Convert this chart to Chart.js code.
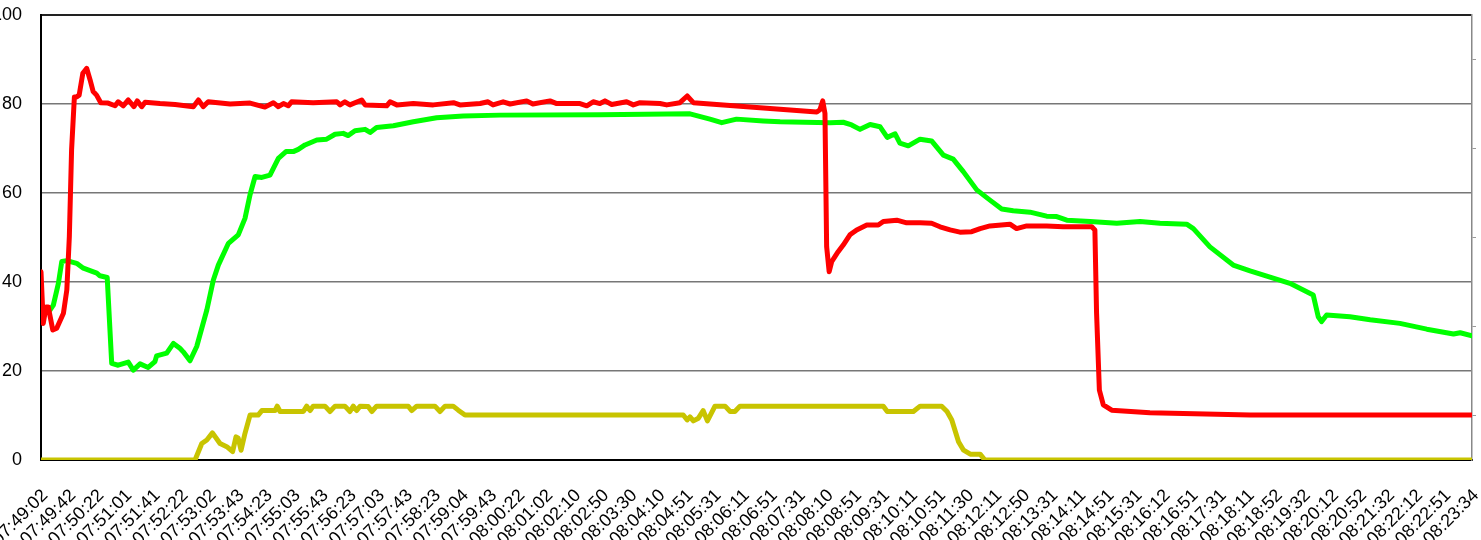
<!DOCTYPE html>
<html>
<head>
<meta charset="utf-8">
<script src="https://cdn.jsdelivr.net/npm/chart.js@4/dist/chart.umd.min.js"></script>
<style>
  html, body { margin: 0; padding: 0; background: #ffffff; }
  #wrap { width: 1481px; height: 540px; }
</style>
</head>
<body>
<div id="wrap"><canvas id="c" width="1481" height="540"></canvas></div>
<script>
const timeLabels = ["07:49:02","07:49:42","07:50:22","07:51:01","07:51:41","07:52:22","07:53:02","07:53:43","07:54:23","07:55:03","07:55:43","07:56:23","07:57:03","07:57:43","07:58:23","07:59:04","07:59:43","08:00:22","08:01:02","08:02:10","08:02:50","08:03:30","08:04:10","08:04:51","08:05:31","08:06:11","08:06:51","08:07:31","08:08:10","08:08:51","08:09:31","08:10:11","08:10:51","08:11:30","08:12:11","08:12:50","08:13:31","08:14:11","08:14:51","08:15:31","08:16:12","08:16:51","08:17:31","08:18:11","08:18:52","08:19:32","08:20:12","08:20:52","08:21:32","08:22:12","08:22:51","08:23:34"];

const yTickValues = [0, 20, 40, 60, 80, 100];
const rightTickValues = [10, 30, 50, 70, 90];

// red series: position along the time labels (fractional label index) and value
const redX = [0,0.08,0.18,0.26,0.42,0.56,0.80,0.92,1.01,1.09,1.19,1.27,1.36,1.49,1.63,1.75,1.86,1.98,2.13,2.39,2.64,2.75,2.93,3.11,3.31,3.43,3.59,3.71,4.24,4.78,5.43,5.61,5.78,5.96,6.74,7.45,7.98,8.28,8.46,8.64,8.81,8.93,9.70,10.54,10.66,10.83,11.01,11.43,11.55,12.32,12.44,12.68,13.27,13.98,14.70,14.93,15.65,15.93,16.11,16.47,16.72,17.31,17.53,18.14,18.38,19.21,19.45,19.68,19.92,20.10,20.34,20.87,21.11,21.35,22.06,22.30,22.77,23.03,23.25,25.15,27.65,27.76,27.86,27.94,28.00,28.09,28.18,28.41,28.59,28.83,29.07,29.43,29.84,30.02,30.50,30.85,31.33,31.74,32.04,32.40,32.75,33.17,33.47,33.82,34.53,34.77,35.13,35.84,36.43,37.03,37.45,37.56,37.62,37.72,37.86,38.16,39.52,43.09,51.00];
const redY = [42.3,30.7,34.4,34.4,29.2,29.6,33.0,38.2,50.2,69.7,81.6,81.6,82.0,86.9,88.0,85.4,82.8,82.0,80.3,80.2,79.6,80.5,79.6,80.9,79.4,80.7,79.4,80.4,80.1,79.9,79.4,80.9,79.4,80.5,80.0,80.2,79.3,80.3,79.4,80.1,79.6,80.5,80.3,80.5,79.8,80.5,79.8,80.9,79.8,79.6,80.5,79.8,80.1,79.8,80.3,79.8,80.1,80.5,79.8,80.5,80.0,80.7,80.0,80.7,80.1,80.1,79.6,80.5,80.1,80.7,79.9,80.5,79.8,80.3,80.1,79.8,80.3,81.8,80.3,79.4,78.2,78.7,80.7,77.9,47.9,42.3,44.6,46.8,48.3,50.6,51.7,52.8,52.8,53.6,53.9,53.3,53.3,53.2,52.4,51.7,51.2,51.3,52.0,52.6,53.0,52.0,52.6,52.6,52.4,52.4,52.4,51.7,33.0,15.7,12.4,11.2,10.6,10.1,10.1];

const greenX = [0,0.14,0.32,0.44,0.62,0.74,0.92,1.27,1.51,1.99,2.10,2.36,2.52,2.75,3.11,3.29,3.53,3.82,4.06,4.12,4.48,4.72,4.95,5.07,5.31,5.55,5.91,6.14,6.32,6.68,7.03,7.27,7.45,7.63,7.87,8.16,8.46,8.73,8.99,9.17,9.41,9.83,10.18,10.48,10.77,10.95,11.19,11.55,11.73,11.96,12.56,13.27,14.10,15.05,16.36,19.92,23.13,23.84,24.26,24.79,25.74,26.34,28.12,28.59,28.89,29.19,29.55,29.90,30.16,30.44,30.61,30.91,31.33,31.74,32.16,32.51,32.87,33.35,33.82,34.24,34.65,35.25,35.84,36.20,36.56,37.39,38.34,39.17,39.88,40.83,41.07,41.66,42.49,43.09,44.51,45.34,45.52,45.64,45.82,46.65,47.37,48.43,49.39,50.34,50.58,51.00];
const greenY = [32.2,33.3,33.7,34.8,39.7,44.6,44.8,44.2,43.1,42.0,41.4,41.0,21.7,21.3,22.0,20.2,21.6,20.8,22.1,23.4,24.0,26.2,25.1,24.3,22.3,25.5,33.7,40.4,43.8,48.7,50.6,54.3,59.6,63.7,63.5,64.0,67.8,69.3,69.3,69.8,70.8,71.9,72.1,73.2,73.4,72.9,74.0,74.3,73.6,74.7,75.1,76.0,76.9,77.3,77.5,77.6,77.8,76.6,75.8,76.6,76.2,76.0,75.8,75.9,75.3,74.3,75.4,74.9,72.5,73.3,71.2,70.6,72.1,71.7,68.5,67.6,64.8,60.7,58.4,56.4,56.0,55.7,54.8,54.7,53.9,53.6,53.2,53.6,53.2,53.0,52.0,47.9,43.8,42.5,39.7,37.1,32.2,31.1,32.6,32.2,31.5,30.7,29.4,28.3,28.6,27.9];

const yellowX = [0,5.49,5.73,5.91,6.11,6.38,6.62,6.83,6.95,7.03,7.13,7.27,7.45,7.74,7.87,8.34,8.42,8.52,9.35,9.47,9.59,9.70,10.12,10.30,10.48,10.83,11.01,11.13,11.25,11.37,11.66,11.79,11.96,13.09,13.21,13.39,14.04,14.22,14.40,14.69,14.87,15.11,22.89,23.03,23.13,23.25,23.43,23.60,23.75,24.02,24.38,24.56,24.73,24.91,30.02,30.16,31.09,31.33,32.10,32.29,32.46,32.70,32.88,33.12,33.47,33.64,51.00];
const yellowY = [0,0,3.7,4.5,6.1,3.7,3.0,1.9,5.2,4.9,2.2,6.0,10.1,10.1,11.1,11.1,12.1,10.9,10.9,12.1,11.1,12.1,12.1,10.9,12.1,12.1,10.9,12.1,11.1,12.1,12.0,10.9,12.1,12.1,11.1,12.1,12.1,10.9,12.1,12.1,11.2,10.1,10.1,9.0,9.7,8.8,9.4,11.1,8.8,12.1,12.1,10.9,10.9,12.1,12.1,10.9,10.9,12.1,12.1,10.9,9.0,4.1,2.2,1.3,1.3,0,0];

const pairs = (xs, ys) => xs.map((x, i) => ({ x: x, y: ys[i] }));

const fontFamily = "'Liberation Sans', Arial, sans-serif";

new Chart(document.getElementById('c'), {
  type: 'line',
  data: {
    datasets: [
      { label: 'red', data: pairs(redX, redY), borderColor: '#ff0000', borderWidth: 5 },
      { label: 'green', data: pairs(greenX, greenY), borderColor: '#00ff00', borderWidth: 5 },
      { label: 'yellow', data: pairs(yellowX, yellowY), borderColor: '#c8c400', borderWidth: 5 }
    ]
  },
  options: {
    responsive: false,
    animation: false,
    parsing: false,
    elements: {
      point: { radius: 0, hoverRadius: 0 },
      line: { tension: 0, borderJoinStyle: 'round', borderCapStyle: 'round', fill: false }
    },
    layout: { padding: { top: 15, left: 0, right: 0, bottom: 0 } },
    plugins: { legend: { display: false }, tooltip: { enabled: false }, title: { display: false } },
    scales: {
      x: {
        type: 'linear',
        position: 'bottom',
        min: 0,
        max: timeLabels.length - 1,
        grid: { display: false, drawTicks: false },
        border: { display: true, color: '#000000', width: 2 },
        ticks: {
          stepSize: 1,
          autoSkip: false,
          maxTicksLimit: 100,
          maxRotation: 45,
          minRotation: 45,
          padding: 25,
          labelOffset: 4,
          color: '#000000',
          font: { family: fontFamily, size: 18 },
          callback: (v) => timeLabels[v]
        },
        afterFit: (s) => { s.height = 80; s.paddingLeft = 0; s.paddingRight = 0; }
      },
      y: {
        position: 'left',
        min: 0,
        max: 100,
        afterBuildTicks: (s) => { s.ticks = yTickValues.map(v => ({ value: v })); },
        grid: {
          color: (ctx) => (ctx.tick && ctx.tick.value === 100) ? '#222222' : '#777777',
          lineWidth: (ctx) => (ctx.tick && ctx.tick.value === 100) ? 2 : 1.5,
          drawTicks: false
        },
        border: { color: '#000000', width: 2 },
        ticks: {
          padding: 19,
          color: '#000000',
          font: { family: fontFamily, size: 18 }
        },
        afterFit: (s) => { s.width = 41; s.paddingTop = 0; s.paddingBottom = 0; }
      },
      y2: {
        position: 'right',
        min: 0,
        max: 100,
        afterBuildTicks: (s) => { s.ticks = rightTickValues.map(v => ({ value: v })); },
        grid: { drawOnChartArea: false, drawTicks: true, tickLength: 4, color: '#999999', lineWidth: 1 },
        border: { color: '#888888', width: 1.5 },
        ticks: { display: false },
        afterFit: (s) => { s.width = 9; s.paddingTop = 0; s.paddingBottom = 0; }
      }
    }
  }
});
</script>
</body>
</html>
